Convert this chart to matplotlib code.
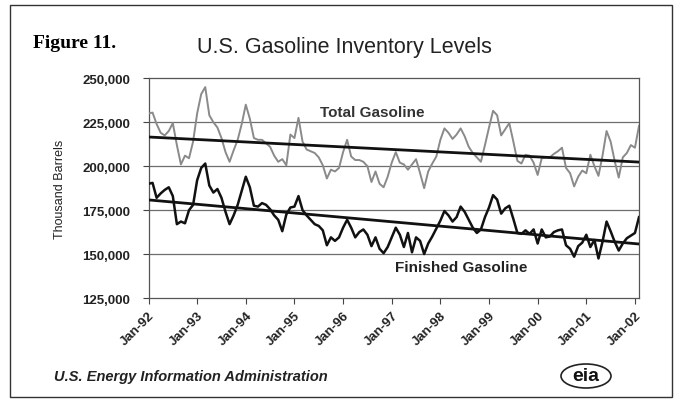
import numpy as np
import matplotlib
matplotlib.use("Agg")
import matplotlib.pyplot as plt
from matplotlib.patches import Ellipse, Rectangle
from matplotlib.ticker import FuncFormatter, FixedLocator

plt.rcParams['font.family'] = ['Liberation Sans', 'DejaVu Sans']

# Monthly inventory levels, thousand barrels (Jan-92 .. Feb-02)
total_gasoline = [
    230, 230.5, 224, 219, 217.5, 220, 224.5, 212, 201, 206, 204.5, 214,
    230, 241, 245, 229, 225, 222, 216, 208, 202.5, 209, 215, 224,
    235, 227, 216, 215, 215, 213, 211, 206, 202.5, 204, 200.5, 218,
    216, 227.5, 214, 209.5, 208.5, 207.5, 205, 200.5, 193, 198, 197, 199,
    208, 215, 205.5, 203.5, 203.5, 202.5, 200, 191, 197, 190, 188, 194,
    202, 208, 202, 201, 198, 201, 204, 196, 187.5, 197, 201.5, 205.5,
    215, 221.5, 219, 215.5, 218, 221.5, 217, 211, 207.5, 205, 202.5, 212,
    222, 231.5, 229, 217.5, 221, 224.5, 214, 203, 201.5, 206.5, 206, 202,
    195, 204.5, 205, 205, 207, 208.5, 210.5, 199, 196, 188.5, 194, 197.5,
    196, 206.5, 200, 194.5, 206, 220, 214, 203, 193.5, 205, 207.5, 212,
    210.5, 223,
]
finished_gasoline = [
    190, 190.5, 182, 184.5, 186.5, 188, 183, 167, 168.5, 167.5, 175, 178,
    192, 199, 201.5, 189, 185, 187, 182, 174, 167, 172, 178, 186,
    194, 188, 177.5, 177, 179, 178, 175.5, 172, 169.5, 163, 172.5, 176.5,
    177, 183, 175, 172, 169.5, 167, 166, 163.5, 155, 159.5, 157.5, 159.5,
    165, 169.5, 165, 159.5, 162.5, 164, 161, 154.5, 159.5, 153, 150.5, 154,
    159.5, 165, 161, 154, 162, 151, 159.5, 157.5, 150, 156, 160, 164.5,
    169, 174.5, 172, 168.5, 171, 177, 174, 169.5, 165, 162, 164, 171,
    176.5, 183.5, 181, 173, 176, 177.5, 170, 162, 161.5, 163.5, 161.5, 164,
    156, 164, 159.5, 160, 162.5, 163.5, 164, 155, 153, 148.5, 154.5, 156.5,
    161, 154, 158, 147.5, 157, 168.5, 163, 157, 152, 156, 159, 160.5,
    162, 171,
]
tick_labels = ['Jan-92', 'Jan-93', 'Jan-94', 'Jan-95', 'Jan-96', 'Jan-97',
               'Jan-98', 'Jan-99', 'Jan-00', 'Jan-01', 'Jan-02']
y_ticks = [125000, 150000, 175000, 200000, 225000, 250000]

W, H = 677, 402
fig = plt.figure(figsize=(W / 100, H / 100), dpi=100)
fig.patch.set_facecolor('white')

def fx(px):
    return px / W

def fy(py):
    return 1 - py / H

ax = fig.add_axes([fx(148.5), fy(299), fx(639) - fx(148.5), fy(79.3) - fy(299)])

months = np.arange(len(total_gasoline))
tot = np.array(total_gasoline) * 1000
fin = np.array(finished_gasoline) * 1000

for yv in y_ticks[1:-1]:
    ax.axhline(yv, color='#6e6e6e', lw=0.9, zorder=1)

ax.plot(months, tot, color='#8a8a8a', lw=1.4, zorder=3)
ax.plot(months, fin, color='#111111', lw=1.8, zorder=3)

# linear trend lines
for series in (tot, fin):
    c = np.polyfit(months, series, 1)
    ax.plot(months[[0, -1]], np.polyval(c, months[[0, -1]]), color='#111111', lw=2.0, zorder=4)

ax.set_xlim(0, len(total_gasoline) - 1)
ax.set_ylim(125000, 250000)
ax.xaxis.set_major_locator(FixedLocator(np.arange(len(tick_labels)) * 12))
ax.set_xticklabels(tick_labels, rotation=45, ha='right', rotation_mode='anchor',
                   fontsize=9.5, fontweight='bold', color='#222222')
ax.set_yticks(y_ticks)
ax.yaxis.set_major_formatter(FuncFormatter(lambda v, p: f'{int(v):,}'))
for lab in ax.get_yticklabels():
    lab.set_fontsize(9.5)
    lab.set_fontweight('bold')
    lab.set_color('#222222')
ax.tick_params(axis='y', direction='out', length=4, width=0.8, color='#444444', pad=9)
ax.tick_params(axis='x', direction='out', length=4, width=0.8, color='#444444', pad=4)
for s in ax.spines.values():
    s.set_color('#555555')
    s.set_linewidth(0.9)

ax.set_ylabel('Thousand Barrels', fontsize=9, color='#222222', labelpad=12)

ax.text(42.3, 230800, 'Total Gasoline', fontsize=11, fontweight='bold', color='#333333',
        ha='left', va='center', zorder=5)
ax.text(60.8, 142500, 'Finished Gasoline', fontsize=11, fontweight='bold', color='#222222',
        ha='left', va='center', zorder=5)

fig.text(fx(33), fy(43), 'Figure 11.', fontsize=14, fontweight='bold',
         family=['Liberation Serif', 'DejaVu Serif'], ha='left', va='center')
fig.text(fx(197), fy(48), 'U.S. Gasoline Inventory Levels', fontsize=15.5,
         color='#222222', ha='left', va='center')
fig.text(fx(54), fy(377), 'U.S. Energy Information Administration', fontsize=10.5,
         fontweight='bold', fontstyle='italic', color='#222222', ha='left', va='center')

# logo
fig.patches.append(Ellipse((fx(586), fy(377)), fx(50), 24 / H, transform=fig.transFigure,
                           fill=False, edgecolor='#222222', lw=1.2))
fig.text(fx(586), fy(377), 'eia', fontsize=14, fontweight='bold', color='#111111',
         ha='center', va='center')

# outer frame
fig.patches.append(Rectangle((fx(10), fy(398)), fx(672) - fx(10), fy(6) - fy(398),
                             transform=fig.transFigure, fill=False, edgecolor='#333333', lw=1.0))

fig.savefig('out.png', dpi=100)
